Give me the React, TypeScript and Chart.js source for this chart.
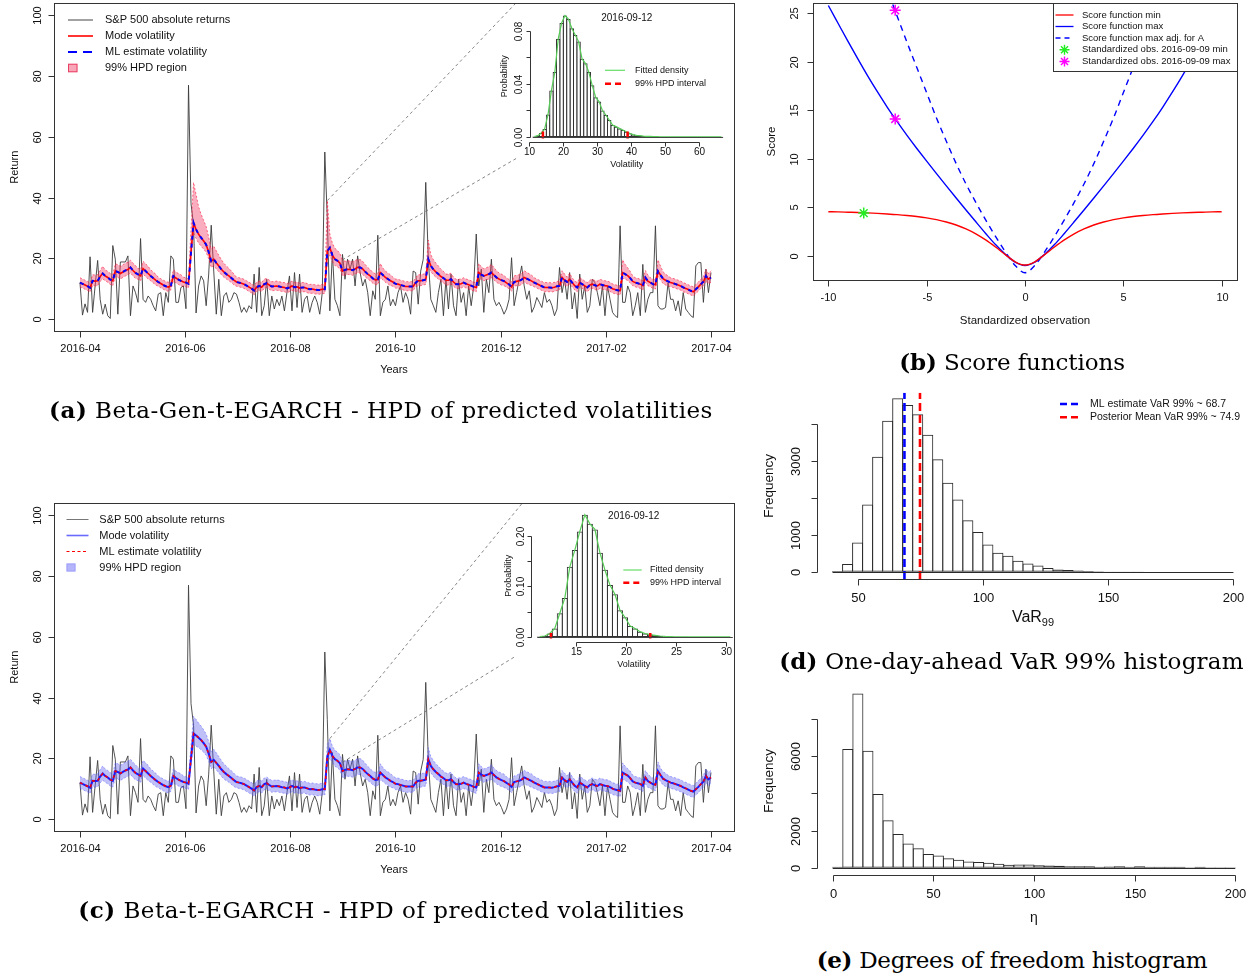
import React, { useEffect, useRef } from 'react';
import { Chart, registerables } from 'chart.js';

Chart.register(...registerables);

const SANS = '"Liberation Sans", Arial, Helvetica, sans-serif';
const SERIF = '"DejaVu Serif", "Liberation Serif", serif';

// ================= (a) & (c) time series =================
const monthTicks = [0, 2, 4, 6, 8, 10, 12];
const monthTickLabels = ['2016-04', '2016-06', '2016-08', '2016-10', '2016-12', '2017-02', '2017-04'];
const returnTicks = [0, 20, 40, 60, 80, 100];
const returnTickLabels = ['0', '20', '40', '60', '80', '100'];

const spReturns = [
  12.0, 1.3, 5.0, 2.2, 20.5, 2.2, 10.9, 19.3, 6.5, 1.6,
  4.9, 1.1, 0.2, 24.2, 19.7, 1.6, 18.8, 18.8, 18.8, 20.8,
  1.1, 10.9, 8.7, 5.5, 26.5, 6.5, 5.5, 7.6, 6.5, 4.4,
  2.7, 8.2, 8.7, 1.1, 8.7, 5.5, 20.8, 19.7, 5.5, 5.5,
  10.4, 10.9, 3.4, 77.0, 38.0, 30.9, 2.0, 10.9, 14.2, 12.6,
  4.4, 14.8, 30.9, 15.8, 1.6, 13.1, 1.1, 7.6, 8.7, 5.5,
  6.5, 8.7, 8.2, 5.5, 2.2, 3.8, 2.2, 4.4, 3.3, 14.8,
  2.2, 17.0, 1.1, 4.4, 13.1, 1.1, 7.6, 3.3, 6.5, 4.4,
  7.6, 2.7, 8.7, 14.2, 2.7, 15.3, 3.8, 14.8, 2.2, 6.5,
  7.6, 2.2, 5.5, 7.6, 5.5, 1.6, 8.7, 55.0, 32.7, 2.7,
  21.9, 6.5, 4.4, 1.1, 21.3, 13.1, 19.7, 16.4, 19.7, 10.9,
  20.8, 15.3, 10.9, 13.1, 8.7, 1.1, 9.3, 6.5, 27.6, 1.1,
  5.5, 6.5, 10.9, 4.4, 6.5, 4.4, 8.7, 10.9, 5.5, 8.7,
  6.5, 1.6, 15.8, 15.3, 4.9, 15.8, 19.7, 45.0, 19.7, 6.5,
  4.4, 2.2, 8.7, 13.1, 1.1, 13.1, 3.3, 14.8, 4.4, 1.1,
  13.1, 5.5, 8.7, 1.1, 10.9, 4.4, 10.9, 28.0, 10.9, 16.4,
  2.2, 13.1, 8.7, 19.7, 6.5, 4.4, 5.5, 3.8, 1.6, 3.3,
  6.5, 20.2, 4.4, 8.7, 13.1, 17.5, 10.9, 6.5, 9.3, 2.2,
  4.0, 7.1, 5.5, 3.8, 8.7, 5.5, 6.5, 4.4, 1.1, 3.3,
  17.0, 8.7, 13.1, 6.5, 15.3, 3.3, 8.7, 0.2, 14.8, 6.5,
  10.9, 2.2, 4.4, 13.1, 12.0, 8.7, 4.4, 10.9, 1.1, 10.9,
  6.5, 2.2, 1.1, 0.5, 30.7, 5.5, 5.5, 10.9, 8.7, 1.1,
  4.4, 8.7, 1.1, 18.0, 2.2, 6.5, 8.7, 8.7, 30.7, 4.4,
  3.3, 3.3, 3.8, 12.0, 6.5, 6.5, 2.7, 6.0, 1.1, 8.7,
  3.3, 2.2, 1.1, 0.5, 17.5, 18.6, 18.6, 5.5, 16.4, 8.7, 15.3,
];

const modeVolA = [
  12.0, 11.6, 11.2, 10.8, 10.3, 12.6, 12.5, 12.6, 14.0, 15.0,
  14.2, 13.7, 13.0, 12.6, 15.8, 15.5, 15.0, 15.5, 16.0, 16.3,
  17.0, 16.0, 15.2, 14.7, 14.2, 16.6, 15.8, 15.0, 14.2, 13.5,
  12.8, 12.2, 11.7, 11.2, 10.8, 10.5, 11.0, 14.2, 13.5, 13.0,
  12.6, 12.2, 12.0, 11.6, 22.0, 31.7, 29.5, 27.9, 26.8, 25.7,
  24.5, 22.0, 19.0, 19.7, 18.5, 17.5, 16.4, 15.5, 14.8, 14.2,
  13.5, 12.8, 12.2, 12.0, 11.8, 11.5, 11.0, 10.5, 10.0, 9.4,
  10.5, 10.9, 10.5, 11.5, 11.8, 11.2, 10.7, 10.8, 10.9, 10.7,
  10.5, 10.4, 10.1, 10.4, 10.9, 10.5, 10.6, 10.2, 10.4, 10.4,
  10.1, 9.8, 9.9, 9.7, 9.6, 9.6, 9.8, 9.8, 22.4, 23.5,
  21.0, 19.7, 19.2, 18.4, 15.8, 16.2, 16.4, 16.3, 16.1, 16.5,
  17.0, 17.0, 16.5, 15.6, 14.8, 14.2, 13.4, 12.9, 13.0, 15.3,
  14.5, 13.7, 13.2, 12.6, 12.2, 11.6, 11.5, 11.2, 11.0, 10.7,
  10.7, 10.7, 10.7, 12.0, 12.6, 12.6, 12.8, 13.0, 19.7, 17.5,
  16.4, 15.5, 14.8, 14.0, 13.5, 12.8, 12.8, 13.1, 12.2, 11.5,
  11.5, 11.6, 12.0, 11.6, 11.3, 11.0, 10.6, 10.4, 15.3, 14.6,
  14.2, 14.5, 14.8, 15.3, 14.5, 13.7, 13.2, 12.8, 12.5, 11.9,
  11.4, 10.6, 12.2, 12.4, 12.6, 13.0, 13.7, 13.3, 12.9, 12.5,
  12.0, 11.6, 11.2, 10.8, 10.4, 10.4, 10.4, 10.3, 10.5, 10.8,
  10.9, 13.7, 12.8, 12.2, 13.1, 12.0, 11.0, 10.4, 12.0, 11.5,
  10.9, 10.4, 11.2, 11.5, 11.1, 10.9, 11.5, 11.2, 11.0, 10.9,
  10.5, 10.0, 9.7, 9.5, 9.3, 15.3, 14.8, 14.3, 13.5, 12.4,
  12.0, 11.8, 11.5, 11.0, 13.7, 12.5, 12.0, 11.5, 11.3, 15.8,
  14.5, 13.3, 12.8, 12.4, 12.0, 11.8, 11.5, 11.2, 10.9, 10.4,
  10.1, 9.7, 9.3, 9.0, 9.8, 10.6, 11.5, 12.3, 14.2, 13.1, 13.7,
];

const hpdLowerA = [
  10.6, 10.2, 9.8, 9.4, 8.9, 11.0, 10.9, 11.0, 12.4, 13.2,
  12.6, 12.1, 11.4, 11.0, 14.0, 13.7, 13.2, 13.7, 14.2, 14.5,
  15.2, 14.2, 13.4, 13.1, 12.6, 14.8, 14.0, 13.2, 12.6, 11.9,
  11.2, 10.8, 10.3, 9.8, 9.4, 9.1, 9.6, 12.6, 11.9, 11.4,
  11.0, 10.8, 10.6, 10.2, 20.0, 28.5, 26.5, 25.0, 24.0, 23.0,
  22.0, 19.8, 17.0, 17.6, 16.5, 15.6, 14.6, 13.8, 13.2, 12.6,
  12.0, 11.2, 10.8, 10.6, 10.4, 10.1, 9.6, 9.1, 8.6, 8.0,
  9.1, 9.5, 9.1, 10.1, 10.4, 9.8, 9.3, 9.4, 9.5, 9.3,
  9.1, 9.0, 8.7, 9.0, 9.5, 9.1, 9.2, 8.8, 9.0, 9.0,
  8.7, 8.4, 8.5, 8.3, 8.2, 8.2, 8.4, 8.4, 19.8, 21.0,
  18.8, 17.6, 17.2, 16.5, 14.2, 14.5, 14.7, 14.6, 14.4, 14.8,
  15.2, 15.2, 14.7, 13.9, 13.2, 12.6, 11.8, 11.3, 11.4, 13.6,
  12.9, 12.1, 11.6, 11.0, 10.8, 10.2, 10.1, 9.8, 9.6, 9.3,
  9.3, 9.3, 9.3, 10.6, 11.0, 11.0, 11.2, 11.4, 17.5, 15.6,
  14.6, 13.8, 13.2, 12.4, 11.9, 11.2, 11.2, 11.5, 10.8, 10.1,
  10.1, 10.2, 10.6, 10.2, 9.9, 9.6, 9.2, 9.0, 13.6, 13.0,
  12.6, 12.9, 13.2, 13.6, 12.9, 12.1, 11.6, 11.2, 11.0, 10.5,
  10.0, 9.2, 10.8, 11.0, 11.0, 11.4, 12.1, 11.7, 11.3, 11.0,
  10.6, 10.2, 9.8, 9.4, 9.0, 9.0, 9.0, 8.9, 9.1, 9.4,
  9.5, 12.1, 11.2, 10.8, 11.5, 10.6, 9.6, 9.0, 10.6, 10.1,
  9.5, 9.0, 9.8, 10.1, 9.7, 9.5, 10.1, 9.8, 9.6, 9.5,
  9.1, 8.6, 8.3, 8.1, 7.9, 13.5, 13.1, 12.7, 11.9, 11.0,
  10.6, 10.4, 10.1, 9.6, 12.1, 11.0, 10.6, 10.1, 9.9, 14.0,
  12.9, 11.7, 11.2, 10.9, 10.6, 10.4, 10.1, 9.8, 9.5, 9.0,
  8.7, 8.3, 7.9, 7.6, 8.4, 9.2, 10.1, 10.9, 12.6, 11.6, 12.1,
];

const hpdUpperA = [
  13.6, 13.2, 12.8, 12.4, 11.9, 14.6, 14.5, 14.6, 16.0, 17.4,
  16.2, 15.7, 15.0, 14.6, 18.2, 17.9, 17.4, 17.9, 18.4, 18.7,
  19.4, 18.4, 17.6, 16.7, 16.2, 19.0, 18.2, 17.4, 16.2, 15.5,
  14.8, 13.8, 13.3, 12.8, 12.4, 12.1, 12.6, 16.2, 15.5, 15.0,
  14.6, 13.8, 13.6, 13.2, 30.0, 45.0, 41.0, 37.0, 34.5, 32.5,
  30.5, 27.0, 23.0, 24.0, 22.5, 21.0, 19.6, 18.4, 17.5, 16.7,
  15.8, 14.8, 13.8, 13.6, 13.4, 13.1, 12.6, 12.1, 11.6, 11.0,
  12.1, 12.5, 12.1, 13.1, 13.4, 12.8, 12.3, 12.4, 12.5, 12.3,
  12.1, 12.0, 11.7, 12.0, 12.5, 12.1, 12.2, 11.8, 12.0, 12.0,
  11.7, 11.4, 11.5, 11.3, 11.2, 11.2, 11.4, 11.4, 39.0, 28.0,
  25.0, 23.3, 22.6, 21.6, 19.5, 19.0, 19.2, 19.1, 18.9, 19.3,
  19.6, 19.6, 19.0, 18.0, 17.0, 16.3, 15.4, 14.9, 15.0, 18.3,
  16.8, 15.8, 15.2, 14.6, 13.8, 13.2, 13.1, 12.8, 12.6, 12.3,
  12.3, 12.3, 12.3, 13.6, 14.6, 14.6, 14.8, 15.0, 26.0, 21.2,
  19.6, 18.4, 17.5, 16.4, 15.7, 14.8, 14.8, 15.1, 13.8, 13.1,
  13.1, 13.2, 13.6, 13.2, 12.9, 12.6, 12.2, 12.0, 18.3, 17.2,
  16.6, 16.9, 17.3, 18.0, 17.0, 15.9, 15.2, 14.8, 14.3, 13.6,
  13.0, 12.2, 14.2, 14.4, 14.6, 15.0, 15.9, 15.4, 14.9, 14.4,
  13.6, 13.2, 12.8, 12.4, 12.0, 12.0, 12.0, 11.9, 12.1, 12.4,
  12.5, 15.9, 14.8, 13.8, 15.1, 13.6, 12.6, 12.0, 13.6, 13.1,
  12.5, 12.0, 12.8, 13.1, 12.7, 12.5, 13.1, 12.8, 12.6, 12.5,
  12.1, 11.6, 11.3, 11.1, 10.9, 19.5, 18.0, 16.9, 15.7, 14.2,
  13.6, 13.4, 13.1, 12.6, 16.0, 14.5, 13.6, 13.1, 12.9, 19.5,
  17.5, 15.6, 14.8, 14.2, 13.6, 13.4, 13.1, 12.8, 12.5, 12.0,
  11.7, 11.3, 10.9, 10.6, 11.4, 12.2, 13.1, 13.9, 16.4, 15.0, 15.9,
];

const modeVolC = [
  12.0, 11.6, 11.2, 10.8, 10.3, 12.6, 12.5, 12.6, 14.0, 15.0,
  14.2, 13.7, 13.0, 12.6, 15.8, 15.5, 15.0, 15.5, 16.0, 16.3,
  17.0, 16.0, 15.2, 14.7, 14.2, 16.6, 15.8, 15.0, 14.2, 13.5,
  12.8, 12.2, 11.7, 11.2, 10.8, 10.5, 11.0, 14.2, 13.5, 13.0,
  12.6, 12.2, 12.0, 11.6, 20.0, 28.2, 27.5, 26.8, 26.0, 25.0,
  23.8, 21.5, 18.8, 19.5, 18.5, 17.5, 16.4, 15.5, 14.8, 14.2,
  13.5, 12.8, 12.2, 12.0, 11.8, 11.5, 11.0, 10.5, 10.0, 9.4,
  10.5, 10.9, 10.5, 11.5, 11.8, 11.2, 10.7, 10.8, 10.9, 10.7,
  10.5, 10.4, 10.1, 10.4, 10.9, 10.5, 10.6, 10.2, 10.4, 10.4,
  10.1, 9.8, 9.9, 9.7, 9.6, 9.6, 9.8, 9.8, 20.5, 22.8,
  20.8, 19.7, 19.2, 18.4, 15.8, 16.2, 16.4, 16.3, 16.1, 16.5,
  17.0, 17.0, 16.5, 15.6, 14.8, 14.2, 13.4, 12.9, 13.0, 15.3,
  14.5, 13.7, 13.2, 12.6, 12.2, 11.6, 11.5, 11.2, 11.0, 10.7,
  10.7, 10.7, 10.7, 12.0, 12.6, 12.6, 12.8, 13.0, 19.7, 17.5,
  16.4, 15.5, 14.8, 14.0, 13.5, 12.8, 12.8, 13.1, 12.2, 11.5,
  11.5, 11.6, 12.0, 11.6, 11.3, 11.0, 10.6, 10.4, 15.3, 14.6,
  14.2, 14.5, 14.8, 15.3, 14.5, 13.7, 13.2, 12.8, 12.5, 11.9,
  11.4, 10.6, 12.2, 12.4, 12.6, 13.0, 13.7, 13.3, 12.9, 12.5,
  12.0, 11.6, 11.2, 10.8, 10.4, 10.4, 10.4, 10.3, 10.5, 10.8,
  10.9, 13.7, 12.8, 12.2, 13.1, 12.0, 11.0, 10.4, 12.0, 11.5,
  10.9, 10.4, 11.2, 11.5, 11.1, 10.9, 11.5, 11.2, 11.0, 10.9,
  10.5, 10.0, 9.7, 9.5, 9.3, 15.3, 14.8, 14.3, 13.5, 12.4,
  12.0, 11.8, 11.5, 11.0, 13.7, 12.5, 12.0, 11.5, 11.3, 15.8,
  14.5, 13.3, 12.8, 12.4, 12.0, 11.8, 11.5, 11.2, 10.9, 10.4,
  10.1, 9.7, 9.3, 9.0, 9.8, 10.6, 11.5, 12.3, 14.2, 13.1, 13.7,
];

const hpdLowerC = [
  10.1, 9.7, 9.3, 8.9, 8.4, 10.6, 10.5, 10.6, 11.9, 12.8,
  12.1, 11.6, 10.9, 10.5, 13.5, 13.2, 12.7, 13.2, 13.7, 14.0,
  14.7, 13.7, 12.9, 12.6, 12.1, 14.3, 13.5, 12.7, 12.1, 11.4,
  10.7, 10.3, 9.8, 9.3, 8.9, 8.6, 9.1, 12.1, 11.4, 10.9,
  10.5, 10.3, 10.1, 9.7, 17.8, 24.5, 24.0, 23.5, 22.8, 22.0,
  21.0, 19.0, 16.5, 17.2, 16.2, 15.2, 14.1, 13.2, 12.6, 12.1,
  11.4, 10.7, 10.3, 10.1, 9.9, 9.6, 9.1, 8.6, 8.1, 7.5,
  8.6, 9.0, 8.6, 9.6, 9.9, 9.3, 8.8, 8.9, 9.0, 8.8,
  8.6, 8.5, 8.2, 8.5, 9.0, 8.6, 8.7, 8.3, 8.5, 8.5,
  8.2, 7.9, 8.0, 7.8, 7.7, 7.7, 7.9, 7.9, 18.2, 20.2,
  18.5, 17.4, 16.9, 16.1, 13.5, 13.9, 14.1, 14.0, 13.8, 14.2,
  14.7, 14.7, 14.2, 13.3, 12.7, 12.1, 11.3, 10.8, 10.9, 13.0,
  12.4, 11.6, 11.1, 10.5, 10.3, 9.7, 9.6, 9.3, 9.1, 8.8,
  8.8, 8.8, 8.8, 10.1, 10.5, 10.5, 10.7, 10.9, 17.2, 15.2,
  14.1, 13.2, 12.7, 11.9, 11.4, 10.7, 10.7, 11.0, 10.3, 9.6,
  9.6, 9.7, 10.1, 9.7, 9.4, 9.1, 8.7, 8.5, 13.0, 12.5,
  12.1, 12.4, 12.7, 13.0, 12.4, 11.6, 11.1, 10.7, 10.4, 10.0,
  9.5, 8.7, 10.3, 10.5, 10.5, 10.9, 11.6, 11.2, 10.8, 10.4,
  10.1, 9.7, 9.3, 8.9, 8.5, 8.5, 8.5, 8.4, 8.6, 8.9,
  9.0, 11.6, 10.7, 10.3, 11.0, 10.1, 9.1, 8.5, 10.1, 9.6,
  9.0, 8.5, 9.3, 9.6, 9.2, 9.0, 9.6, 9.3, 9.1, 9.0,
  8.6, 8.1, 7.8, 7.6, 7.4, 13.0, 12.7, 12.2, 11.4, 10.5,
  10.1, 9.9, 9.6, 9.1, 11.6, 10.4, 10.1, 9.6, 9.4, 13.5,
  12.4, 11.2, 10.7, 10.5, 10.1, 9.9, 9.6, 9.3, 9.0, 8.5,
  8.2, 7.8, 7.4, 7.1, 7.9, 8.7, 9.6, 10.4, 12.1, 11.0, 11.6,
];

const hpdUpperC = [
  14.0, 13.6, 13.2, 12.8, 12.3, 14.8, 14.7, 14.8, 16.3, 17.5,
  16.5, 16.0, 15.3, 14.9, 18.5, 18.2, 17.7, 18.2, 18.7, 19.0,
  19.7, 18.7, 17.9, 17.0, 16.5, 19.3, 18.5, 17.7, 16.5, 15.8,
  15.1, 14.2, 13.7, 13.2, 12.8, 12.5, 13.0, 16.5, 15.8, 15.3,
  14.9, 14.2, 14.0, 13.6, 24.5, 33.8, 32.8, 31.6, 30.6, 29.4,
  28.0, 25.5, 22.2, 23.0, 21.8, 20.6, 19.3, 18.2, 17.4, 16.6,
  15.9, 15.1, 14.2, 14.0, 13.8, 13.5, 13.0, 12.5, 12.0, 11.4,
  12.5, 12.9, 12.5, 13.5, 13.8, 13.2, 12.7, 12.8, 12.9, 12.7,
  12.5, 12.4, 12.1, 12.4, 12.9, 12.5, 12.6, 12.2, 12.4, 12.4,
  12.1, 11.8, 11.9, 11.7, 11.6, 11.6, 11.8, 11.8, 24.5, 26.5,
  24.0, 22.7, 22.0, 21.2, 18.7, 19.1, 19.3, 19.2, 19.0, 19.4,
  19.9, 19.9, 19.4, 18.4, 17.4, 16.6, 15.8, 15.3, 15.4, 18.2,
  17.0, 16.1, 15.6, 15.0, 14.2, 13.6, 13.5, 13.2, 13.0, 12.7,
  12.7, 12.7, 12.7, 14.0, 14.9, 14.9, 15.1, 15.3, 23.5, 20.6,
  19.3, 18.2, 17.4, 16.5, 15.8, 15.1, 15.1, 15.4, 14.2, 13.5,
  13.5, 13.6, 14.0, 13.6, 13.3, 13.0, 12.6, 12.4, 18.2, 17.3,
  16.5, 16.8, 17.1, 17.9, 16.8, 16.0, 15.5, 15.1, 14.8, 13.9,
  13.4, 12.6, 14.2, 14.4, 14.9, 15.3, 16.0, 15.6, 15.2, 14.8,
  14.0, 13.6, 13.2, 12.8, 12.4, 12.4, 12.4, 12.3, 12.5, 12.8,
  12.9, 16.0, 15.1, 14.2, 15.4, 14.0, 13.0, 12.4, 14.0, 13.5,
  12.9, 12.4, 13.2, 13.5, 13.1, 12.9, 13.5, 13.2, 13.0, 12.9,
  12.5, 12.0, 11.7, 11.5, 11.3, 18.5, 17.4, 16.6, 15.8, 14.4,
  14.0, 13.8, 13.5, 13.0, 16.0, 14.8, 14.0, 13.5, 13.3, 18.8,
  16.8, 15.6, 15.1, 14.4, 14.0, 13.8, 13.5, 13.2, 12.9, 12.4,
  12.1, 11.7, 11.3, 11.0, 11.8, 12.6, 13.5, 14.3, 16.5, 15.4, 16.0,
];

// ================= insets: posterior of volatility on 2016-09-12 =================
const insetDate = '2016-09-12';
const insetABinCenters = [
  11.5, 12.5, 13.5, 14.5, 15.5, 16.5, 17.5, 18.5, 19.5, 20.5, 21.5, 22.5, 23.5, 24.5, 25.5, 26.5, 27.5, 28.5, 29.5, 30.5,
  31.5, 32.5, 33.5, 34.5, 35.5, 36.5, 37.5, 38.5, 39.5, 40.5, 41.5, 42.5, 43.5, 44.5, 45.5, 46.5, 47.5, 48.5, 49.5, 50.5,
  51.5, 52.5, 53.5, 54.5, 55.5, 56.5, 57.5, 58.5, 59.5, 60.5, 61.5, 62.5, 63.5, 64.5, 65.5, 66.5,
];
const insetADensity = [
  0.0003, 0.001, 0.003, 0.006, 0.017, 0.035, 0.049, 0.074, 0.086, 0.0916, 0.089, 0.082, 0.077, 0.072, 0.059, 0.0556, 0.049, 0.039, 0.030, 0.0267,
  0.020, 0.0166, 0.0128, 0.009, 0.0078, 0.0065, 0.0053, 0.004, 0.0028, 0.0018, 0.0012, 0.001, 0.0007, 0.0005, 0.0004, 0.0003, 0.0003, 0.0002, 0.0002, 0.0002,
  0.0001, 0.0001, 0.0001, 0.0001, 0.0001, 0.0001, 0.0001, 0.0001, 0.0001, 0.0001, 0.0001, 0.0001, 0.0001, 0.0001, 0.0001, 0.0001,
];
const insetAHpd = [14.0, 38.9];

const insetCBinCenters = [
  11.38, 11.88, 12.38, 12.88, 13.38, 13.88, 14.38, 14.88, 15.38, 15.88, 16.38, 16.88, 17.38, 17.88, 18.38, 18.88, 19.38, 19.88, 20.38, 20.88,
  21.38, 21.88, 22.38, 22.88, 23.38, 23.88, 24.38, 24.88, 25.38, 25.88, 26.38, 26.88, 27.38, 27.88, 28.38, 28.88, 29.38, 29.88, 30.38,
];
const insetCDensity = [
  0.001, 0.002, 0.007, 0.017, 0.047, 0.077, 0.139, 0.172, 0.209, 0.242, 0.224, 0.213, 0.167, 0.133, 0.103, 0.0845, 0.053, 0.039, 0.022, 0.017,
  0.0106, 0.007, 0.0046, 0.0033, 0.002, 0.0012, 0.0008, 0.0005, 0.0003, 0.0003, 0.0002, 0.0002, 0.0001, 0.0001, 0.0001, 0.0001, 0.0001, 0.0001, 0.0001,
];
const insetCHpd = [12.5, 22.4];

// ================= (b) score functions =================
const stdObs = [-10, -9.5, -9, -8.5, -8, -7.5, -7, -6.5, -6, -5.5, -5, -4.5, -4, -3.5, -3, -2.5, -2, -1.5, -1, -0.5, 0,
  0.5, 1, 1.5, 2, 2.5, 3, 3.5, 4, 4.5, 5, 5.5, 6, 6.5, 7, 7.5, 8, 8.5, 9, 9.5, 10];
const scoreMin = [4.54, 4.52, 4.49, 4.46, 4.42, 4.37, 4.31, 4.24, 4.15, 4.04, 3.9, 3.72, 3.48, 3.17, 2.77, 2.26, 1.63, 0.9, 0.12, -0.62, -0.96,
  -0.62, 0.12, 0.9, 1.63, 2.26, 2.77, 3.17, 3.48, 3.72, 3.9, 4.04, 4.15, 4.24, 4.31, 4.37, 4.42, 4.46, 4.49, 4.52, 4.54];
const scoreMax = [25.8, 23.95, 22.1, 20.3, 18.55, 16.89, 15.31, 13.82, 12.41, 11.06, 9.75, 8.47, 7.21, 5.96, 4.72, 3.5, 2.3, 1.15, 0.15, -0.65, -1.0,
  -0.65, 0.15, 1.15, 2.3, 3.5, 4.72, 5.96, 7.21, 8.47, 9.75, 11.06, 12.41, 13.82, 15.31, 16.89, 18.55, 20.3, 22.1, 23.95, 25.8];
const scoreMaxAdjA = [44.0, 41.2, 38.4, 35.6, 32.8, 30.1, 27.4, 24.7, 22.0, 19.4, 16.8, 14.2, 11.8, 9.5, 7.4, 5.5, 3.7, 2.0, 0.4, -1.0, -1.75,
  -1.0, 0.4, 2.0, 3.7, 5.5, 7.4, 9.5, 11.8, 14.2, 16.8, 19.4, 22.0, 24.7, 27.4, 30.1, 32.8, 35.6, 38.4, 41.2, 44.0];
const obsMinX = [-8.2];
const obsMinY = [4.4];
const obsMaxX = [-6.6, -6.6];
const obsMaxY = [14.1, 25.3];
const scoreTicksX = [-10, -5, 0, 5, 10];
const scoreTicksY = [0, 5, 10, 15, 20, 25];

// ================= (d) VaR histogram =================
const varBinCenters = [42, 46, 50, 54, 58, 62, 66, 70, 74, 78, 82, 86, 90, 94, 98, 102, 106, 110, 114, 118,
  122, 126, 130, 134, 138, 142, 146, 150, 154, 158, 162, 166, 170, 174, 178, 182, 186, 190, 194, 198];
const varCounts = [20, 207, 793, 1829, 3126, 4099, 4712, 4532, 4279, 3721, 3054, 2414, 1964, 1396, 1081, 739, 514, 432, 297, 225,
  171, 99, 63, 45, 36, 18, 10, 6, 5, 4, 3, 2, 2, 2, 1, 1, 1, 1, 1, 1];
const varML = 68.7;
const varPosteriorMean = 74.9;

// ================= (e) degrees of freedom histogram =================
const etaBinCenters = [2.5, 7.5, 12.5, 17.5, 22.5, 27.5, 32.5, 37.5, 42.5, 47.5, 52.5, 57.5, 62.5, 67.5, 72.5, 77.5, 82.5, 87.5, 92.5, 97.5,
  102.5, 107.5, 112.5, 117.5, 122.5, 127.5, 132.5, 137.5, 142.5, 147.5, 152.5, 157.5, 162.5, 167.5, 172.5, 177.5, 182.5, 187.5, 192.5, 197.5];
const etaCounts = [54, 6393, 9375, 6286, 3964, 2554, 1821, 1304, 1054, 750, 661, 518, 429, 339, 321, 268, 214, 161, 179, 179,
  143, 125, 107, 89, 89, 89, 54, 71, 89, 54, 89, 54, 54, 54, 54, 36, 54, 36, 36, 36];

// ================= helpers =================
const N = spReturns.length;
const tradingMonths = spReturns.map((_, i) => (12 * i) / (N - 1));
const seriesXY = (vals: number[]) => vals.map((v, i) => ({ x: tradingMonths[i], y: v }));
const pairXY = (xs: number[], ys: number[]) => xs.map((x, i) => ({ x, y: ys[i] }));

type Axis = { ticks: number[]; labels: string[]; font: number; tick: number; gap: number; title?: string; titleFont?: number; titleGap?: number };

function rFrame(o: { box?: boolean; x: Axis; y: Axis; xTitleDraw?: (ctx: any, cx: number, cy: number) => void; over?: (chart: any) => void; after?: (chart: any) => void }) {
  return {
    id: 'rFrame',
    afterDatasetsDraw(chart: any) {
      if (o.over) o.over(chart);
    },
    afterDraw(chart: any) {
      const ctx = chart.ctx;
      const a = chart.chartArea;
      const xs = chart.scales.x;
      const ys = chart.scales.y;
      ctx.save();
      ctx.strokeStyle = '#333';
      ctx.fillStyle = '#111';
      ctx.lineWidth = 1;
      ctx.setLineDash([]);
      if (o.box) {
        const l = Math.round(a.left) + 0.5, t = Math.round(a.top) + 0.5;
        const r = Math.round(a.right) + 0.5, b = Math.round(a.bottom) + 0.5;
        ctx.strokeRect(l, t, r - l, b - t);
      }
      const yb = Math.round(a.bottom) + 0.5;
      const xp = o.x.ticks.map((t) => Math.round(xs.getPixelForValue(t)) + 0.5);
      ctx.beginPath();
      ctx.moveTo(xp[0], yb);
      ctx.lineTo(xp[xp.length - 1], yb);
      xp.forEach((p) => { ctx.moveTo(p, yb); ctx.lineTo(p, yb + o.x.tick); });
      ctx.stroke();
      ctx.textAlign = 'center';
      ctx.textBaseline = 'middle';
      ctx.font = `${o.x.font}px ${SANS}`;
      xp.forEach((p, i) => { if (o.x.labels[i]) ctx.fillText(o.x.labels[i], p, a.bottom + o.x.gap); });
      const cx = (a.left + a.right) / 2;
      if (o.x.title) {
        ctx.font = `${o.x.titleFont}px ${SANS}`;
        ctx.fillText(o.x.title, cx, a.bottom + (o.x.titleGap || 0));
      } else if (o.xTitleDraw) {
        o.xTitleDraw(ctx, cx, a.bottom + (o.x.titleGap || 0));
      }
      const xl = Math.round(a.left) + 0.5;
      const yp = o.y.ticks.map((t) => Math.round(ys.getPixelForValue(t)) + 0.5);
      ctx.beginPath();
      ctx.moveTo(xl, yp[0]);
      ctx.lineTo(xl, yp[yp.length - 1]);
      yp.forEach((p) => { ctx.moveTo(xl, p); ctx.lineTo(xl - o.y.tick, p); });
      ctx.stroke();
      ctx.font = `${o.y.font}px ${SANS}`;
      yp.forEach((p, i) => {
        const s = o.y.labels[i];
        if (!s) return;
        ctx.save();
        ctx.translate(a.left - o.y.gap, p);
        ctx.rotate(-Math.PI / 2);
        ctx.fillText(s, 0, 0);
        ctx.restore();
      });
      if (o.y.title) {
        ctx.font = `${o.y.titleFont}px ${SANS}`;
        ctx.save();
        ctx.translate(a.left - (o.y.titleGap || 0), (a.top + a.bottom) / 2);
        ctx.rotate(-Math.PI / 2);
        ctx.fillText(o.y.title, 0, 0);
        ctx.restore();
      }
      ctx.restore();
      if (o.after) o.after(chart);
    },
  };
}

function drawStar(ctx: any, x: number, y: number, r: number, color: string, lw: number) {
  ctx.save();
  ctx.strokeStyle = color;
  ctx.lineWidth = lw;
  ctx.setLineDash([]);
  const d = r * 0.7071;
  ctx.beginPath();
  ctx.moveTo(x - r, y); ctx.lineTo(x + r, y);
  ctx.moveTo(x, y - r); ctx.lineTo(x, y + r);
  ctx.moveTo(x - d, y - d); ctx.lineTo(x + d, y + d);
  ctx.moveTo(x - d, y + d); ctx.lineTo(x + d, y - d);
  ctx.stroke();
  ctx.restore();
}

type LegRow = { text: string; kind: 'line' | 'rect' | 'star'; color: string; width?: number; dash?: number[]; fill?: string };

function drawLegend(ctx: any, rows: LegRow[], g: { x0: number; x1: number; textX: number; ys: number[]; font: number; rectW?: number; rectH?: number; starR?: number }) {
  ctx.save();
  ctx.font = `${g.font}px ${SANS}`;
  ctx.textAlign = 'left';
  ctx.textBaseline = 'middle';
  rows.forEach((r, i) => {
    const y = g.ys[i];
    if (r.kind === 'line') {
      ctx.strokeStyle = r.color;
      ctx.lineWidth = r.width || 1;
      ctx.setLineDash(r.dash || []);
      ctx.beginPath();
      ctx.moveTo(g.x0, y);
      ctx.lineTo(g.x1, y);
      ctx.stroke();
    } else if (r.kind === 'rect') {
      ctx.setLineDash([]);
      const w = g.rectW || 9, h = g.rectH || 9;
      ctx.fillStyle = r.fill || r.color;
      ctx.fillRect(g.x0, y - h / 2, w, h);
      ctx.strokeStyle = r.color;
      ctx.lineWidth = 1;
      ctx.strokeRect(g.x0 + 0.5, y - h / 2 + 0.5, w - 1, h - 1);
    } else {
      drawStar(ctx, (g.x0 + g.x1) / 2, y, g.starR || 5, r.color, 1.4);
    }
    ctx.fillStyle = '#111';
    ctx.fillText(r.text, g.textX, y);
  });
  ctx.restore();
}

function baseOptions(pad: any, xmin: number, xmax: number, ymin: number, ymax: number) {
  return {
    animation: false,
    responsive: false,
    devicePixelRatio: 1,
    events: [],
    layout: { padding: pad, autoPadding: false },
    plugins: { legend: { display: false }, tooltip: { enabled: false }, title: { display: false } },
    scales: {
      x: { type: 'linear', display: false, min: xmin, max: xmax, offset: false },
      y: { type: 'linear', display: false, min: ymin, max: ymax },
    },
  };
}

function ChartBox(p: { left: number; top: number; width: number; height: number; config: () => any }) {
  const ref = useRef<HTMLCanvasElement | null>(null);
  useEffect(() => {
    const chart = new Chart(ref.current as HTMLCanvasElement, p.config());
    return () => chart.destroy();
  }, []);
  return (
    <canvas
      ref={ref}
      width={p.width}
      height={p.height}
      style={{ position: 'absolute', left: p.left, top: p.top, width: p.width, height: p.height }}
    />
  );
}

// ---------- main series panels (a) and (c) ----------
const SERIES_W = 745, SERIES_H = 390;
const seriesPad = { left: 54, top: 3.2, right: 11, bottom: 58.8 };

function seriesConfig(v: 'a' | 'c') {
  const isA = v === 'a';
  const mode = isA ? modeVolA : modeVolC;
  const lower = isA ? hpdLowerA : hpdLowerC;
  const upper = isA ? hpdUpperA : hpdUpperC;
  const bandFill = isA ? 'rgba(240,60,100,0.42)' : 'rgba(90,90,240,0.38)';
  const bandEdge = isA ? 'rgba(255,0,40,0.6)' : 'rgba(80,80,255,0.55)';
  const modeStyle = isA ? { color: '#ff0000', width: 1.6, dash: [] as number[] } : { color: '#1a1aff', width: 2, dash: [] as number[] };
  const mlStyle = isA ? { color: '#0000ff', width: 2, dash: [4, 4] } : { color: '#ff0000', width: 1.5, dash: [3, 3] };
  const rows: LegRow[] = isA
    ? [
        { text: 'S&P 500 absolute returns', kind: 'line', color: '#444', width: 1 },
        { text: 'Mode volatility', kind: 'line', color: '#ff0000', width: 1.6 },
        { text: 'ML estimate volatility', kind: 'line', color: '#0000ff', width: 2, dash: [9, 6] },
        { text: '99% HPD region', kind: 'rect', color: 'rgba(230,40,80,0.8)', fill: 'rgba(240,60,100,0.45)' },
      ]
    : [
        { text: 'S&P 500 absolute returns', kind: 'line', color: '#777', width: 1 },
        { text: 'Mode volatility', kind: 'line', color: '#6a6aff', width: 1.6 },
        { text: 'ML estimate volatility', kind: 'line', color: '#ff0000', width: 1.2, dash: [3, 2.5] },
        { text: '99% HPD region', kind: 'rect', color: 'rgba(150,150,250,0.7)', fill: 'rgba(150,150,250,0.7)' },
      ];
  const legendGeom = isA
    ? { x0: 68, x1: 93, textX: 105, ys: [20, 36, 52, 68], font: 11, rectW: 9.5, rectH: 8.5 }
    : { x0: 66.5, x1: 88.5, textX: 99.3, ys: [19.5, 35.5, 51.5, 67.5], font: 11, rectW: 9, rectH: 8 };
  // connector anchors (data coordinates) to the inset
  const anchors = isA
    ? [{ x: tradingMonths[98], y: hpdUpperA[98] }, { x: tradingMonths[104], y: hpdUpperA[104] }]
    : [{ x: tradingMonths[99], y: hpdUpperC[99] }, { x: tradingMonths[104], y: hpdUpperC[104] }];
  const ends = isA ? [[515, 4], [517, 158]] : [[522, 3.5], [516, 156]];

  const cfg: any = {
    type: 'line',
    data: {
      datasets: [
        { data: seriesXY(spReturns), borderColor: isA ? '#3a3a3a' : '#404040', borderWidth: 0.9, pointRadius: 0, fill: false, order: 10 },
        { data: seriesXY(lower), borderColor: bandEdge, borderWidth: 0.9, borderDash: [2, 2], pointRadius: 0, fill: false, order: 5 },
        { data: seriesXY(upper), borderColor: bandEdge, borderWidth: 0.9, borderDash: [2, 2], pointRadius: 0, fill: 1, backgroundColor: bandFill, order: 4 },
        { data: seriesXY(mode), borderColor: modeStyle.color, borderWidth: modeStyle.width, borderDash: modeStyle.dash, pointRadius: 0, fill: false, order: 2 },
        { data: seriesXY(mode), borderColor: mlStyle.color, borderWidth: mlStyle.width, borderDash: mlStyle.dash, pointRadius: 0, fill: false, order: 1 },
      ],
    },
    options: baseOptions(seriesPad, -0.494, 12.438, -4, 104),
    plugins: [
      rFrame({
        box: true,
        x: { ticks: monthTicks, labels: monthTickLabels, font: 11, tick: 6, gap: 18, title: 'Years', titleFont: 11, titleGap: 39 },
        y: { ticks: returnTicks, labels: returnTickLabels, font: 11, tick: 6, gap: 16, title: 'Return', titleFont: 11, titleGap: 39 },
        after: (chart: any) => {
          const ctx = chart.ctx;
          drawLegend(ctx, rows, legendGeom);
          ctx.save();
          ctx.strokeStyle = '#666';
          ctx.lineWidth = 0.8;
          ctx.setLineDash([3, 3]);
          anchors.forEach((p, i) => {
            ctx.beginPath();
            ctx.moveTo(chart.scales.x.getPixelForValue(p.x), chart.scales.y.getPixelForValue(p.y));
            ctx.lineTo(ends[i][0], ends[i][1]);
            ctx.stroke();
          });
          ctx.restore();
        },
      }),
    ],
  };
  return cfg;
}

// ---------- insets ----------
function insetConfig(v: 'a' | 'c') {
  const isA = v === 'a';
  const centers = isA ? insetABinCenters : insetCBinCenters;
  const dens = isA ? insetADensity : insetCDensity;
  const hpd = isA ? insetAHpd : insetCHpd;
  const binW = isA ? 1 : 0.5;
  const pad = isA ? { left: 40, top: 10.7, right: 16.4, bottom: 38.1 } : { left: 40.7, top: 9.7, right: 3.3, bottom: 38.1 };
  const xmin = isA ? 10.2 : 10.48, xmax = isA ? 67.14 : 31.02;
  const ymin = isA ? -0.0037 : -0.0097, ymax = isA ? 0.0953 : 0.252;
  const plotW = 250 - pad.left - pad.right;
  const thickness = binW * (plotW / (xmax - xmin)) + 1;
  const hpdLow = isA ? -0.0012 : -0.003;
  const hpdHigh = isA ? 0.0042 : 0.008;
  const xAxis: Axis = isA
    ? { ticks: [10, 20, 30, 40, 50, 60], labels: ['10', '20', '30', '40', '50', '60'], font: 10, tick: 4, gap: 10, title: 'Volatility', titleFont: 9, titleGap: 22.4 }
    : { ticks: [15, 20, 25, 30], labels: ['15', '20', '25', '30'], font: 10, tick: 4, gap: 10, title: 'Volatility', titleFont: 9, titleGap: 22.4 };
  const yAxis: Axis = isA
    ? { ticks: [0, 0.02, 0.04, 0.06, 0.08], labels: ['0.00', '', '0.04', '', '0.08'], font: 10, tick: 4, gap: 10.7, title: 'Probability', titleFont: 9, titleGap: 25 }
    : { ticks: [0, 0.05, 0.1, 0.15, 0.2], labels: ['0.00', '', '0.10', '', '0.20'], font: 10, tick: 4, gap: 9.5, title: 'Probability', titleFont: 9, titleGap: 22.4 };
  const leg = isA
    ? { x0: 115, x1: 135, textX: 145, ys: [70.3, 83.7], font: 9 }
    : { x0: 133.3, x1: 151.7, textX: 160, ys: [70, 82.7], font: 9 };
  const titleY = isA ? 18.3 : 16.7;
  const cfg: any = {
    type: 'bar',
    data: {
      datasets: [
        {
          type: 'bar', data: pairXY(centers, dens), backgroundColor: 'rgba(0,0,0,0)', borderColor: '#333', borderWidth: 1,
          borderSkipped: false, barThickness: thickness, inflateAmount: 0, order: 3,
        },
        { type: 'line', data: pairXY(centers, dens), borderColor: '#55cc55', borderWidth: 1.2, pointRadius: 0, fill: false, order: 2 },
        { type: 'line', data: [{ x: hpd[0], y: hpdLow }, { x: hpd[0], y: hpdHigh }], borderColor: '#ff0000', borderWidth: 2.5, pointRadius: 0, order: 1 },
        { type: 'line', data: [{ x: hpd[1], y: hpdLow }, { x: hpd[1], y: hpdHigh }], borderColor: '#ff0000', borderWidth: 2.5, pointRadius: 0, order: 1 },
      ],
    },
    options: baseOptions(pad, xmin, xmax, ymin, ymax),
    plugins: [
      rFrame({
        x: xAxis,
        y: yAxis,
        over: (chart: any) => {
          const ctx = chart.ctx;
          const xs = chart.scales.x, ys = chart.scales.y;
          ctx.save();
          ctx.strokeStyle = '#444';
          ctx.lineWidth = 1;
          const y0 = Math.round(ys.getPixelForValue(0)) + 0.5;
          ctx.beginPath();
          ctx.moveTo(xs.getPixelForValue(centers[0] - binW / 2), y0);
          ctx.lineTo(xs.getPixelForValue(centers[centers.length - 1] + binW / 2), y0);
          ctx.stroke();
          ctx.restore();
        },
        after: (chart: any) => {
          const ctx = chart.ctx;
          const a = chart.chartArea;
          ctx.save();
          ctx.font = `10px ${SANS}`;
          ctx.fillStyle = '#111';
          ctx.textAlign = 'center';
          ctx.textBaseline = 'middle';
          ctx.fillText(insetDate, (a.left + a.right) / 2, titleY);
          ctx.restore();
          drawLegend(ctx, [
            { text: 'Fitted density', kind: 'line', color: '#66dd66', width: 1.2 },
            { text: '99% HPD interval', kind: 'line', color: '#ff0000', width: 2.5, dash: [6, 4] },
          ], leg);
        },
      }),
    ],
  };
  return cfg;
}

// ---------- (b) ----------
function scoreConfig() {
  const rows: LegRow[] = [
    { text: 'Score function min', kind: 'line', color: '#ff0000', width: 1.3 },
    { text: 'Score function max', kind: 'line', color: '#0000ff', width: 1.3 },
    { text: 'Score function max adj. for A', kind: 'line', color: '#0000ff', width: 1.3, dash: [5, 4] },
    { text: 'Standardized obs. 2016-09-09 min', kind: 'star', color: '#22ee22' },
    { text: 'Standardized obs. 2016-09-09 max', kind: 'star', color: '#ff00ff' },
  ];
  const cfg: any = {
    type: 'line',
    data: {
      datasets: [
        { data: pairXY(stdObs, scoreMaxAdjA), borderColor: '#0000ff', borderWidth: 1.4, borderDash: [6, 5], pointRadius: 0, cubicInterpolationMode: 'monotone', order: 5 },
        { data: pairXY(stdObs, scoreMax), borderColor: '#0000ff', borderWidth: 1.4, pointRadius: 0, cubicInterpolationMode: 'monotone', order: 4 },
        { data: pairXY(stdObs, scoreMin), borderColor: '#ff0000', borderWidth: 1.4, pointRadius: 0, cubicInterpolationMode: 'monotone', order: 3 },
        { data: pairXY(obsMinX, obsMinY), showLine: false, pointStyle: 'star', pointRadius: 5.5, pointBorderColor: '#22ee22', pointBorderWidth: 1.5, order: 2 },
        { data: pairXY(obsMaxX, obsMaxY), showLine: false, pointStyle: 'star', pointRadius: 5.5, pointBorderColor: '#ff00ff', pointBorderWidth: 1.5, order: 1 },
      ],
    },
    options: baseOptions({ left: 68, top: 3, right: 18, bottom: 65 }, -10.78, 10.78, -2.5, 26.06),
    plugins: [
      rFrame({
        box: true,
        x: { ticks: scoreTicksX, labels: scoreTicksX.map(String), font: 11, tick: 6, gap: 18, title: 'Standardized observation', titleFont: 11.5, titleGap: 41 },
        y: { ticks: scoreTicksY, labels: scoreTicksY.map(String), font: 11, tick: 6, gap: 18, title: 'Score', titleFont: 11.5, titleGap: 41 },
        over: (chart: any) => {
          const ctx = chart.ctx;
          const a = chart.chartArea;
          const l = 308.5, t = Math.round(a.top) + 0.5, r = Math.round(a.right) + 0.5, b = 71.5;
          ctx.save();
          ctx.fillStyle = '#fff';
          ctx.fillRect(l, t, r - l, b - t);
          ctx.strokeStyle = '#333';
          ctx.lineWidth = 1;
          ctx.strokeRect(l, t, r - l, b - t);
          ctx.restore();
          drawLegend(ctx, rows, { x0: 310.5, x1: 328.5, textX: 337, ys: [15, 26.5, 38, 49.8, 61.5], font: 9.5, starR: 5 });
        },
      }),
    ],
  };
  return cfg;
}

// ---------- (d) ----------
function varConfig() {
  const xmin = 33.6, xmax = 206.4, ymin = -198, ymax = 4864;
  const pad = { left: 71.5, top: 12.7, right: 5.5, bottom: 61 };
  const plotW = 510 - pad.left - pad.right;
  const thickness = 4 * (plotW / (xmax - xmin)) + 1;
  const cfg: any = {
    type: 'bar',
    data: {
      datasets: [
        { type: 'bar', data: pairXY(varBinCenters, varCounts), backgroundColor: 'rgba(0,0,0,0)', borderColor: '#2a2a2a', borderWidth: 1, borderSkipped: false, barThickness: thickness, inflateAmount: 0, order: 3 },
        { type: 'line', data: [{ x: varML, y: ymin }, { x: varML, y: ymax }], borderColor: '#0000ff', borderWidth: 2.6, borderDash: [8, 4], pointRadius: 0, order: 2 },
        { type: 'line', data: [{ x: varPosteriorMean, y: ymin }, { x: varPosteriorMean, y: ymax }], borderColor: '#ff0000', borderWidth: 2.6, borderDash: [8, 4], pointRadius: 0, order: 1 },
      ],
    },
    options: baseOptions(pad, xmin, xmax, ymin, ymax),
    plugins: [
      rFrame({
        x: { ticks: [50, 100, 150, 200], labels: ['50', '100', '150', '200'], font: 13, tick: 6, gap: 19, titleGap: 39 },
        y: { ticks: [0, 1000, 2000, 3000, 4000], labels: ['0', '1000', '', '3000', ''], font: 13, tick: 6, gap: 20, title: 'Frequency', titleFont: 13.5, titleGap: 47 },
        xTitleDraw: (ctx: any, cx: number, cy: number) => {
          ctx.save();
          ctx.font = `16px ${SANS}`;
          const w1 = ctx.measureText('VaR').width;
          ctx.font = `11px ${SANS}`;
          const w2 = ctx.measureText('99').width;
          const x0 = cx - (w1 + w2) / 2;
          ctx.textAlign = 'left';
          ctx.font = `16px ${SANS}`;
          ctx.fillText('VaR', x0, cy);
          ctx.font = `11px ${SANS}`;
          ctx.fillText('99', x0 + w1, cy + 4.5);
          ctx.restore();
        },
        over: (chart: any) => {
          const ctx = chart.ctx;
          const xs = chart.scales.x, ys = chart.scales.y;
          ctx.save();
          ctx.strokeStyle = '#2a2a2a';
          ctx.lineWidth = 1;
          const y0 = Math.round(ys.getPixelForValue(0)) + 0.5;
          ctx.beginPath();
          ctx.moveTo(xs.getPixelForValue(varBinCenters[0] - 2), y0);
          ctx.lineTo(xs.getPixelForValue(varBinCenters[varBinCenters.length - 1] + 2), y0);
          ctx.stroke();
          ctx.restore();
        },
        after: (chart: any) => {
          drawLegend(chart.ctx, [
            { text: 'ML estimate VaR 99% ~ ' + varML.toFixed(1), kind: 'line', color: '#0000ff', width: 2.6, dash: [7, 4] },
            { text: 'Posterior Mean VaR 99% ~ ' + varPosteriorMean.toFixed(1), kind: 'line', color: '#ff0000', width: 2.6, dash: [7, 4] },
          ], { x0: 315, x1: 336, textX: 345, ys: [24, 37.3], font: 10.5 });
        },
      }),
    ],
  };
  return cfg;
}

// ---------- (e) ----------
function etaConfig() {
  const xmin = -8, xmax = 208, ymin = -400, ymax = 9750;
  const pad = { left: 71.6, top: 6.4, right: 3.6, bottom: 54.7 };
  const plotW = 510 - pad.left - pad.right;
  const thickness = 5 * (plotW / (xmax - xmin)) + 1;
  const cfg: any = {
    type: 'bar',
    data: {
      datasets: [
        { type: 'bar', data: pairXY(etaBinCenters, etaCounts), backgroundColor: 'rgba(0,0,0,0)', borderColor: '#2a2a2a', borderWidth: 1, borderSkipped: false, barThickness: thickness, inflateAmount: 0 },
      ],
    },
    options: baseOptions(pad, xmin, xmax, ymin, ymax),
    plugins: [
      rFrame({
        x: { ticks: [0, 50, 100, 150, 200], labels: ['0', '50', '100', '150', '200'], font: 13, tick: 6, gap: 19.5, title: '\u03B7', titleFont: 14, titleGap: 42.5 },
        y: { ticks: [0, 2000, 4000, 6000, 8000], labels: ['0', '2000', '', '6000', ''], font: 13, tick: 6, gap: 20, title: 'Frequency', titleFont: 13.5, titleGap: 47 },
        over: (chart: any) => {
          const ctx = chart.ctx;
          const xs = chart.scales.x, ys = chart.scales.y;
          ctx.save();
          ctx.strokeStyle = '#2a2a2a';
          ctx.lineWidth = 1;
          const y0 = Math.round(ys.getPixelForValue(0)) + 0.5;
          ctx.beginPath();
          ctx.moveTo(xs.getPixelForValue(etaBinCenters[0] - 2.5), y0);
          ctx.lineTo(xs.getPixelForValue(etaBinCenters[etaBinCenters.length - 1] + 2.5), y0);
          ctx.stroke();
          ctx.restore();
        },
      }),
    ],
  };
  return cfg;
}

function Caption(p: { cx: number; cy: number; tag: string; text: string; spacing: number }) {
  return (
    <div
      style={{
        position: 'absolute', left: p.cx - 400, width: 800, top: p.cy - 16, height: 32, lineHeight: '32px',
        textAlign: 'center', fontFamily: SERIF, fontSize: 23, letterSpacing: p.spacing, whiteSpace: 'nowrap', color: '#000',
      }}
    >
      <b>{p.tag}</b> {p.text}
    </div>
  );
}

export default function App() {
  return (
    <div style={{ position: 'absolute', left: 0, top: 0, width: 1255, height: 976, background: '#fff', overflow: 'hidden' }}>
      <ChartBox left={0} top={0} width={SERIES_W} height={SERIES_H} config={() => seriesConfig('a')} />
      <ChartBox left={0} top={500} width={SERIES_W} height={SERIES_H} config={() => seriesConfig('c')} />
      <ChartBox left={490} top={0} width={250} height={180} config={() => insetConfig('a')} />
      <ChartBox left={490} top={500} width={250} height={180} config={() => insetConfig('c')} />
      <ChartBox left={745} top={0} width={510} height={345} config={scoreConfig} />
      <ChartBox left={745} top={380} width={510} height={260} config={varConfig} />
      <ChartBox left={745} top={680} width={510} height={250} config={etaConfig} />
      <Caption cx={381} cy={410} spacing={0.5} tag="(a)" text="Beta-Gen-t-EGARCH - HPD of predicted volatilities" />
      <Caption cx={1012} cy={362} spacing={-0.1} tag="(b)" text="Score functions" />
      <Caption cx={381.5} cy={910} spacing={0.5} tag="(c)" text="Beta-t-EGARCH - HPD of predicted volatilities" />
      <Caption cx={1011.5} cy={661} spacing={0.22} tag="(d)" text="One-day-ahead VaR 99% histogram" />
      <Caption cx={1012} cy={960} spacing={-0.3} tag="(e)" text="Degrees of freedom histogram" />
    </div>
  );
}
